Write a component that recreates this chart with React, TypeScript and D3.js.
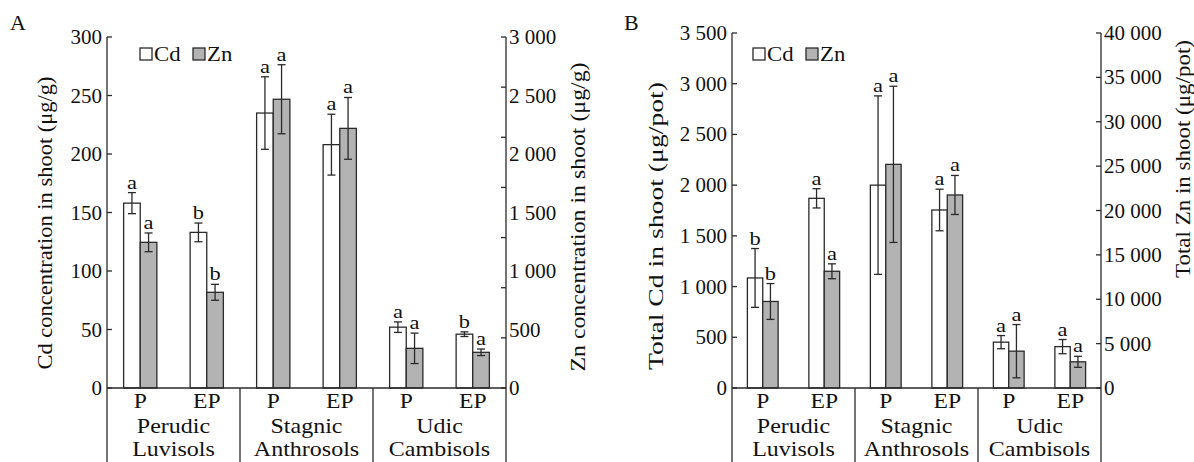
import React from 'react';
import * as d3 from 'd3';

// categories
const soils = [['Perudic', 'Luvisols'], ['Stagnic', 'Anthrosols'], ['Udic', 'Cambisols']];
const treatments = ['P', 'EP'];
const seriesNames = ['Cd', 'Zn'];

// panel A: concentration in shoot (ug/g)
const cdConc = [158, 133, 235, 208, 52, 46];
const cdConcErr = [9, 8, 31, 26, 4.5, 2];
const cdConcSig = ['a', 'b', 'a', 'a', 'a', 'b'];
const znConc = [1245, 818, 2468, 2219, 339, 305];
const znConcErr = [80, 68, 295, 264, 130, 28];
const znConcSig = ['a', 'b', 'a', 'a', 'a', 'a'];
const cdConcTicks = [0, 50, 100, 150, 200, 250, 300];
const znConcTicks = [0, 500, 1000, 1500, 2000, 2500, 3000];

// panel B: total in shoot (ug/pot)
const cdTotal = [1085, 1870, 2000, 1755, 452, 408];
const cdTotalErr = [290, 95, 880, 205, 65, 70];
const cdTotalSig = ['b', 'a', 'a', 'a', 'a', 'a'];
const znTotal = [9750, 13150, 25200, 21750, 4150, 2950];
const znTotalErr = [2020, 840, 8800, 2200, 3000, 620];
const znTotalSig = ['b', 'a', 'a', 'a', 'a', 'a'];
const cdTotalTicks = [0, 500, 1000, 1500, 2000, 2500, 3000, 3500];
const znTotalTicks = [0, 5000, 10000, 15000, 20000, 25000, 30000, 35000, 40000];

const FONT = 'Liberation Serif';
const INK = '#2a2a2a';
const GRAY = '#b3b3b3';
const H = 462;

const fmt = (v: number) => d3.format(',')(v).replace(/,/g, ' ');

const HText = ({ x, y, size = 20, sx = 1.15, anchor = 'middle', children }: any) => (
  <text
    transform={`translate(${x},${y}) scale(${sx},1)`}
    textAnchor={anchor}
    fontSize={size}
    style={{ fontFamily: FONT }}
    fill="#111"
  >
    {children}
  </text>
);

const VText = ({ x, y, len, children }: any) => (
  <text
    transform={`translate(${x},${y}) rotate(-90)`}
    textAnchor="middle"
    fontSize={22}
    style={{ fontFamily: FONT }}
    fill="#111"
    textLength={len}
    lengthAdjust="spacingAndGlyphs"
  >
    {children}
  </text>
);

const Panel = (p: any) => {
  const { x0, x1, yTop, y0, letter, lMax, lTicks, rMax, rTicks, rMarks, cd, cdErr, cdSig, zn, znErr, znSig, labels, legendDx } = p;
  const cats = soils.flatMap((_, i) => treatments.map((t) => `${i}-${t}`));
  const x = d3.scaleBand().domain(cats).range([x0, x1]).padding(0);
  const bw = x.bandwidth();
  const inner = d3.scaleBand().domain(seriesNames).range([0, bw]).paddingInner(0).paddingOuter(1);
  const yl = d3.scaleLinear().domain([0, lMax]).range([y0, yTop]);
  const yr = d3.scaleLinear().domain([0, rMax]).range([y0, yTop]);

  const series = [
    { name: 'Cd', vals: cd, errs: cdErr, sig: cdSig, y: yl, fill: '#fff' },
    { name: 'Zn', vals: zn, errs: znErr, sig: znSig, y: yr, fill: GRAY },
  ];

  const marks = rMarks ?? rTicks;

  return (
    <g>
      <HText x={letter.x} y={30} sx={1.1} anchor="start">{letter.t}</HText>

      {/* bars, error bars, letters */}
      {series.map((s) =>
        cats.map((c, i) => {
          const bx = (x(c) as number) + (inner(s.name) as number);
          const w = inner.bandwidth();
          const cx = bx + w / 2;
          const yv = s.y(s.vals[i]);
          const yHi = s.y(s.vals[i] + s.errs[i]);
          const yLo = s.y(s.vals[i] - s.errs[i]);
          return (
            <g key={s.name + c}>
              <rect x={bx} y={yv} width={w} height={y0 - yv} fill={s.fill} stroke={INK} strokeWidth={1.3} />
              <line x1={cx} x2={cx} y1={yHi} y2={yLo} stroke={INK} strokeWidth={1.3} />
              <line x1={cx - 4} x2={cx + 4} y1={yHi} y2={yHi} stroke={INK} strokeWidth={1.3} />
              <line x1={cx - 4} x2={cx + 4} y1={yLo} y2={yLo} stroke={INK} strokeWidth={1.3} />
              <HText x={cx} y={yHi - 4} size={19} sx={1.18}>{s.sig[i]}</HText>
            </g>
          );
        })
      )}

      {/* axes */}
      <line x1={x0} x2={x0} y1={yTop} y2={H} stroke={INK} strokeWidth={1.3} />
      <line x1={x1} x2={x1} y1={yTop} y2={H} stroke={INK} strokeWidth={1.3} />
      <line x1={x0} x2={x1} y1={y0} y2={y0} stroke={INK} strokeWidth={1.3} />
      {[2, 4].map((i) => (
        <line key={i} x1={x(cats[i])} x2={x(cats[i])} y1={y0} y2={H} stroke={INK} strokeWidth={1.3} />
      ))}

      {lTicks.map((t: number) => (
        <g key={'l' + t}>
          <line x1={x0} x2={x0 + 5} y1={yl(t)} y2={yl(t)} stroke={INK} strokeWidth={1.3} />
          <HText x={x0 - 5} y={yl(t) + 7} sx={1.05} anchor="end">{fmt(t)}</HText>
        </g>
      ))}
      {marks.map((t: number, i: number) => (
        <line key={'rm' + i} x1={x1 - 5} x2={x1} y1={yr(t)} y2={yr(t)} stroke={INK} strokeWidth={1.3} />
      ))}
      {rTicks.map((t: number) => (
        <HText key={'r' + t} x={x1 + 3} y={yr(t) + 7} sx={1.05} anchor="start">{fmt(t)}</HText>
      ))}

      {/* category labels */}
      {cats.map((c, i) => (
        <HText key={'c' + c} x={(x(c) as number) + bw / 2} y={408} sx={1.18}>{treatments[i % 2]}</HText>
      ))}
      {soils.map((s, g) => {
        const gx = (x(cats[2 * g]) as number) + bw;
        return (
          <g key={'g' + g}>
            <HText x={gx} y={433} sx={1.2}>{s[0]}</HText>
            <HText x={gx} y={456} sx={1.2}>{s[1]}</HText>
          </g>
        );
      })}

      {/* legend */}
      {seriesNames.map((n, i) => {
        const lx = x0 + legendDx + i * 53;
        return (
          <g key={'lg' + n}>
            <rect x={lx} y={48} width={12} height={12} fill={i === 0 ? '#fff' : GRAY} stroke={INK} strokeWidth={1.3} />
            <HText x={lx + 14} y={61} sx={1.14} anchor="start">{n}</HText>
          </g>
        );
      })}

      {/* axis titles */}
      <VText x={labels[0].x} y={labels[0].y} len={labels[0].len}>{labels[0].t}</VText>
      <VText x={labels[1].x} y={labels[1].y} len={labels[1].len}>{labels[1].t}</VText>
    </g>
  );
};

export default function App() {
  return (
    <svg
      width={1194}
      height={462}
      style={{ position: 'absolute', left: 0, top: 0, background: '#fff' }}
    >
      <rect width={1194} height={462} fill="#fff" />
      <Panel
        x0={107}
        x1={506}
        yTop={37}
        y0={388}
        letter={{ t: 'A', x: 10 }}
        lMax={300}
        lTicks={cdConcTicks}
        rMax={3000}
        rTicks={znConcTicks}
        rMarks={d3.range(8).map((i) => (i * 3000) / 7)}
        cd={cdConc}
        cdErr={cdConcErr}
        cdSig={cdConcSig}
        zn={znConc}
        znErr={znConcErr}
        znSig={znConcSig}
        legendDx={33}
        labels={[
          { t: 'Cd concentration in shoot (μg/g)', x: 52, y: 223, len: 293 },
          { t: 'Zn concentration in shoot (μg/g)', x: 585, y: 217, len: 309 },
        ]}
      />
      <Panel
        x0={732}
        x1={1101}
        yTop={33}
        y0={388}
        letter={{ t: 'B', x: 624 }}
        lMax={3500}
        lTicks={cdTotalTicks}
        rMax={40000}
        rTicks={znTotalTicks}
        cd={cdTotal}
        cdErr={cdTotalErr}
        cdSig={cdTotalSig}
        zn={znTotal}
        znErr={znTotalErr}
        znSig={znTotalSig}
        legendDx={21}
        labels={[
          { t: 'Total Cd in shoot (μg/pot)', x: 663, y: 226, len: 288 },
          { t: 'Total Zn in shoot (μg/pot)', x: 1190, y: 159, len: 238 },
        ]}
      />
    </svg>
  );
}
